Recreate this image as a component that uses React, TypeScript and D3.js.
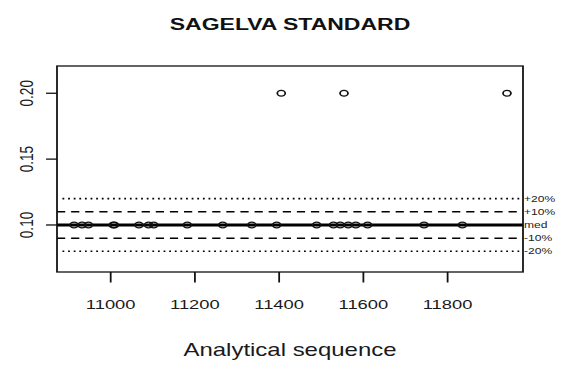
import React from "react";
import * as d3 from "d3";

const seqX: number[] = [10913, 10932, 10947, 11006, 11009, 11067, 11090, 11102, 11182, 11266, 11335, 11394, 11405, 11489, 11529, 11545, 11554, 11564, 11582, 11610, 11744, 11835, 11941];
const values: number[] = [0.1, 0.1, 0.1, 0.1, 0.1, 0.1, 0.1, 0.1, 0.1, 0.1, 0.1, 0.1, 0.2, 0.1, 0.1, 0.1, 0.2, 0.1, 0.1, 0.1, 0.1, 0.1, 0.2];
const xTicks: number[] = [11000, 11200, 11400, 11600, 11800];
const yTicks: number[] = [0.1, 0.15, 0.2];
const median = 0.1;
const refLabels: string[] = ["+20%", "+10%", "med", "-10%", "-20%"];
const refFactors: number[] = [1.2, 1.1, 1.0, 0.9, 0.8];

const S = 1.37; // horizontal stretch of the picture
const W = 563, H = 367;
const L = 57 / S, R = 523 / S, T = 66, B = 272;

export default function App() {
  const x = d3.scaleLinear().domain([10872.5, 11979]).range([L, R]);
  const y = d3.scaleLinear().domain([0.0643, 0.2207]).range([B, T]);
  const font = "Liberation Sans, Arial, sans-serif";
  return (
    <svg width={W} height={H} style={{ position: "fixed", left: 0, top: 0, background: "#fff" }} fontFamily={font}>
      <rect x={0} y={0} width={W} height={H} fill="#fff" />
      <g transform={`scale(${S},1)`}>
        <defs>
          <clipPath id="pc">
            <rect x={L} y={T} width={R - L} height={B - T} />
          </clipPath>
        </defs>
        <text x={(L + R) / 2} y={30} textAnchor="middle" fontWeight="bold" fontSize={16.8} fill="#111">SAGELVA STANDARD</text>
        <text x={(L + R) / 2} y={356} textAnchor="middle" fontSize={17.5} fill="#1a1a1a">Analytical sequence</text>
        <g clipPath="url(#pc)">
          {refFactors.map((f, i) => {
            const v = median * f;
            const dash = f === 1 ? undefined : Math.abs(f - 1) > 0.15 ? "1.3 2.8" : "6 4.3";
            const w = f === 1 ? 3 : Math.abs(f - 1) > 0.15 ? 1.6 : 1.5;
            return (
              <line key={i} x1={L + (Math.abs(f - 1) > 0.15 ? 4 : 0)} x2={R} y1={y(v)} y2={y(v)} stroke="#000" strokeWidth={w} strokeDasharray={dash} />
            );
          })}
          {seqX.map((sx, i) => (
            <circle key={i} cx={x(sx)} cy={y(values[i])} r={2.9} fill="none" stroke="#111" strokeWidth={1.3} />
          ))}
        </g>
        <rect x={L} y={T} width={R - L} height={B - T} fill="none" stroke="#111" strokeWidth={1.3} />
        {xTicks.map((t) => (
          <g key={t}>
            <line x1={x(t)} x2={x(t)} y1={B} y2={B + 10.5} stroke="#111" strokeWidth={1.3} />
            <text x={x(t)} y={309} textAnchor="middle" fontSize={13.4} fill="#1a1a1a">{t}</text>
          </g>
        ))}
        {yTicks.map((t) => (
          <g key={t}>
            <line x1={L} x2={L - 8} y1={y(t)} y2={y(t)} stroke="#111" strokeWidth={1.3} />
            <text transform={`translate(${33 / S},${y(t)}) rotate(-90)`} textAnchor="middle" fontSize={13.6} fill="#1a1a1a">{t.toFixed(2)}</text>
          </g>
        ))}
        {refFactors.map((f, i) => (
          <text key={i} x={524 / S} y={y(median * f)} dy="0.35em" fontSize={8.8} fill="#222">{refLabels[i]}</text>
        ))}
      </g>
    </svg>
  );
}
